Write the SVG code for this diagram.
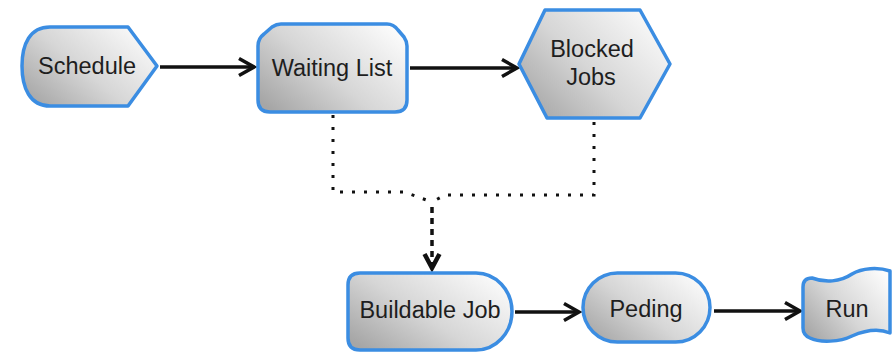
<svg xmlns="http://www.w3.org/2000/svg" width="892" height="357" viewBox="0 0 892 357">
  <defs>
    <linearGradient id="fillGrad" x1="0" y1="0.85" x2="1" y2="0.15">
      <stop offset="0" stop-color="#a6a6a6"/>
      <stop offset="0.45" stop-color="#d6d6d6"/>
      <stop offset="1" stop-color="#fcfcfc"/>
    </linearGradient>
    <marker id="chev" markerUnits="userSpaceOnUse" markerWidth="24" markerHeight="24" refX="18" refY="12" orient="auto">
      <path d="M3,3.5 L18,12 L3,20.5" fill="none" stroke="#111" stroke-width="3.5" stroke-linejoin="miter"/>
    </marker>
    <marker id="chevBold" markerUnits="userSpaceOnUse" markerWidth="22" markerHeight="22" refX="17" refY="11" orient="auto">
      <path d="M3,3.5 L17,11 L3,18.5" fill="none" stroke="#111" stroke-width="4.5" stroke-linejoin="miter"/>
    </marker>
  </defs>
  <style>
    .node { fill: url(#fillGrad); stroke: #3b8de2; stroke-width: 3.5; stroke-linejoin: round; }
    .label { font-family: "Liberation Sans", Arial, Helvetica, sans-serif; font-size: 23.5px; fill: #1e1e1e; text-anchor: middle; }
    .flow { fill: none; stroke: #111; stroke-width: 3.5; marker-end: url(#chev); }
    .dotted { fill: none; stroke: #111; stroke-width: 3; stroke-dasharray: 3 9; }
    .dashed { fill: none; stroke: #111; stroke-width: 3.5; stroke-dasharray: 6 5; marker-end: url(#chevBold); }
  </style>
  <rect width="892" height="357" fill="#ffffff"/>

  <g id="connectors">
    <path class="flow" d="M160,67 H254"/>
    <path class="flow" d="M410,68 H517"/>
    <path class="flow" d="M515,312 H579"/>
    <path class="flow" d="M714,311 H800"/>
    <path class="dotted" d="M333,115 V192 H404 L432,202"/>
    <path class="dotted" d="M594,122 V195 H445 L432,202"/>
    <path class="dashed" d="M432,207 V268"/>
  </g>

  <g id="schedule">
    <path class="node" d="M50,27 H128 L157,66 L128,106 H50 C30,106 22,88 22,66 C22,44 30,27 50,27 Z"/>
    <text class="label" x="87" y="74">Schedule</text>
  </g>

  <g id="waiting-list">
    <path class="node" d="M281,24 H387 C392,24 395,26 398,30 L404,37 C406,40 407,42 407,46 V100 Q407,112 395,112 H270 Q258,112 258,100 V46 C258,40 260,37 264,34 L272,27 C275,25 277,24 281,24 Z"/>
    <text class="label" x="332" y="76">Waiting List</text>
  </g>

  <g id="blocked-jobs">
    <path class="node" d="M519,64 L545,10 H640 L670,64 L640,118 H547 Z"/>
    <text class="label" x="592" y="57">Blocked</text>
    <text class="label" x="591" y="85">Jobs</text>
  </g>

  <g id="buildable-job">
    <path class="node" d="M360,273 H476 A36,38.5 0 0 1 476,350 H360 Q348,350 348,338 V285 Q348,273 360,273 Z"/>
    <text class="label" x="430" y="318">Buildable Job</text>
  </g>

  <g id="peding">
    <rect class="node" x="583" y="273" width="127" height="69" rx="34.5" ry="34.5"/>
    <text class="label" x="646" y="317">Peding</text>
  </g>

  <g id="run">
    <path class="node" d="M812,278 C825,283 840,282 852,274 C862,268 878,267 890,271 V333 C878,328 866,330 852,336 C840,342 820,343 810,338 Q803,335 803,328 V287 Q803,278 812,278 Z"/>
    <text class="label" x="847" y="317">Run</text>
  </g>
</svg>
